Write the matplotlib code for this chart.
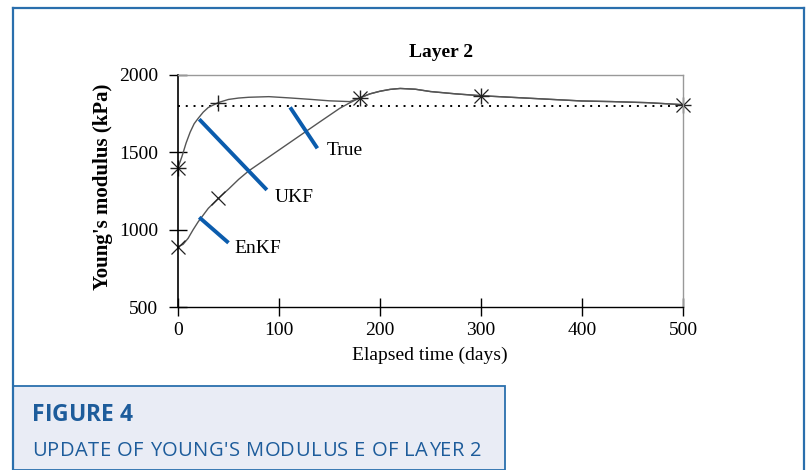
import matplotlib.pyplot as plt
from matplotlib.patches import Rectangle
from matplotlib.lines import Line2D

# ============================
# DATOS
# ============================
ukf_t = [0, 4, 8, 12, 16, 20, 25, 30, 40, 50, 60, 70, 90, 110, 130, 150, 170, 180,
         190, 200, 210, 220, 235, 250, 275, 300, 350, 400, 430, 465, 500]
ukf_e = [1400, 1475, 1560, 1630, 1685, 1720, 1760, 1790, 1822, 1842, 1851, 1856, 1860, 1852, 1843, 1833, 1828, 1852,
         1878, 1895, 1907, 1913, 1908, 1893, 1878, 1866, 1849, 1832, 1828, 1821, 1808]

enkf_t = [0, 5, 10, 15, 20, 30, 40, 50, 60, 70, 80, 100, 120, 140, 160, 170, 180,
          190, 200, 210, 220, 235, 250, 275, 300, 350, 400, 430, 465, 500]
enkf_e = [890, 905, 944, 1000, 1051, 1138, 1203, 1262, 1325, 1380, 1425, 1515, 1605, 1695, 1784, 1820, 1852,
          1878, 1895, 1907, 1913, 1908, 1893, 1878, 1866, 1849, 1832, 1828, 1821, 1808]

true_t = [0, 500]
true_e = [1800, 1800]

# marcadores en los instantes de actualización
ukf_mark_t = [0, 40, 180, 300, 500]
ukf_mark_e = [1400, 1822, 1852, 1866, 1808]
enkf_mark_t = [0, 40, 180, 300, 500]
enkf_mark_e = [890, 1203, 1852, 1866, 1808]

# etiquetas con línea azul: (x0, y0, x1, y1, x_texto, y_texto, texto)
etiquetas = [
    (21, 1714, 88, 1257, 96, 1205, "UKF"),
    (21, 1080, 50, 915, 56, 878, "EnKF"),
    (111, 1791, 138, 1526, 147, 1510, "True"),
]

xticks = [0, 100, 200, 300, 400, 500]
yticks = [500, 1000, 1500, 2000]

titulo_fig = "FIGURE 4"
subtitulo_fig = "UPDATE OF YOUNG'S MODULUS E OF LAYER 2"

# ============================
# FIGURA
# ============================
W, H = 809, 470
fig = plt.figure(figsize=(W / 100, H / 100), dpi=100)
plt.rcParams["font.family"] = ["Liberation Serif", "DejaVu Serif"]

azul = "#2a6fad"
azul_txt = "#1d5c9b"

# marco exterior
fig.add_artist(Line2D([12.5 / W, 12.5 / W], [0, 1 - 8 / H], color=azul, lw=1.6))
fig.add_artist(Line2D([12.5 / W, 804 / W], [1 - 8 / H, 1 - 8 / H], color=azul, lw=1.6))
fig.add_artist(Line2D([804 / W, 804 / W], [0, 1 - 8 / H], color=azul, lw=1.6))

ax = fig.add_axes([178 / W, 1 - 307 / H, (683 - 178) / W, (307 - 75) / H])

ax.plot(true_t, true_e, color="black", linestyle=(0, (1, 3)), lw=1.4)
ax.plot(ukf_t, ukf_e, color="#555555", lw=1.0)
ax.plot(enkf_t, enkf_e, color="#555555", lw=1.0)
ax.plot(ukf_mark_t, ukf_mark_e, linestyle="none", marker="+", ms=11, mew=1.0, color="#222222", clip_on=False)
ax.plot(enkf_mark_t, enkf_mark_e, linestyle="none", marker="x", ms=10, mew=0.9, color="#222222", clip_on=False)
ax.plot([0], [1400], linestyle="none", marker="x", ms=10, mew=0.9, color="#222222", clip_on=False)

for x0, y0, x1, y1, xt, yt, txt in etiquetas:
    ax.plot([x0, x1], [y0, y1], color="#0b5cad", lw=2.8, solid_capstyle="butt")
    ax.text(xt, yt, txt, fontsize=14, ha="left", va="center")

ax.set_xlim(0, 500)
ax.set_ylim(500, 2000)
ax.set_xticks(xticks)
ax.set_yticks(yticks)
ax.tick_params(axis="both", direction="inout", length=13, width=1.0, labelsize=14)
ax.tick_params(axis="x", pad=4)
ax.tick_params(axis="y", pad=8)
ax.spines["top"].set_color("#999999")
ax.spines["right"].set_color("#999999")
ax.spines["left"].set_linewidth(1.2)
for lado in ["bottom", "top", "right"]:
    ax.spines[lado].set_linewidth(1.0)

ax.set_title("Layer 2", fontsize=14, fontweight="bold", pad=13, x=0.52)
fig.text(430 / W, 1 - 355 / H, "Elapsed time (days)", fontsize=14, ha="center", va="center")
fig.text(103 / W, 1 - 187 / H, "Young's modulus (kPa)", fontsize=15, fontweight="bold",
         rotation=90, ha="center", va="center")

# recuadro del pie de figura
fig.add_artist(Rectangle((12.5 / W, 0), (505 - 12.5) / W, (470 - 386) / H,
                         facecolor="#e9ecf5", edgecolor=azul, lw=1.3, transform=fig.transFigure))

renderer = fig.canvas.get_renderer()


def texto_espaciado(x_px, y_px, s, ancho_px, **kw):
    # texto con espaciado entre letras para ocupar ancho_px
    def ancho(sub):
        t = fig.text(0, 0, sub, **kw)
        w = t.get_window_extent(renderer).width
        t.remove()
        return w
    total = ancho(s)
    extra = (ancho_px - total) / (len(s) - 1)
    for i, c in enumerate(s):
        if c == " ":
            continue
        xr = x_px + ancho(s[:i + 1]) + i * extra
        fig.text(xr / W, 1 - y_px / H, c, ha="right", va="center", **kw)


texto_espaciado(32, 415, titulo_fig, 101, fontsize=16.5, fontweight="bold",
                color=azul_txt, family="Open Sans")
texto_espaciado(32, 451, subtitulo_fig, 450, fontsize=14.5,
                color=azul_txt, family="Open Sans")

plt.savefig("out.png", dpi=100)
